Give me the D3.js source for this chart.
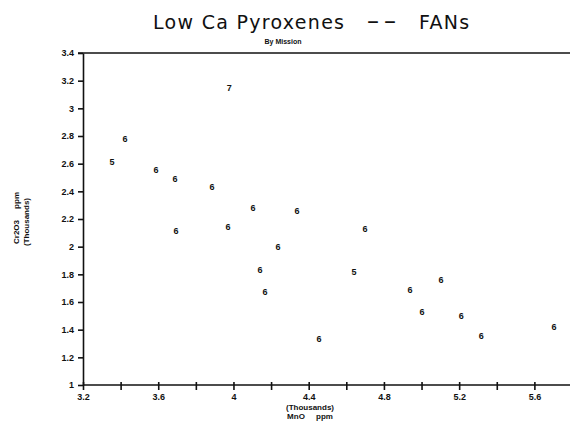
<!DOCTYPE html>
<html>
<head>
<meta charset="utf-8">
<script src="https://cdn.jsdelivr.net/npm/d3@7"></script>
<style>
  body { margin: 0; background: #fff; }
  svg { display: block; }
  .tick text { font-family: "Liberation Sans", Arial, sans-serif; font-weight: bold; font-size: 9px; fill: #111; }
  .domain, .tick line { stroke: #111; stroke-width: 1.6; }
</style>
</head>
<body>
<div id="chart"></div>
<script>
// MnO (thousands ppm), Cr2O3 (thousands ppm), mission label
const mno = [3.354, 3.423, 3.977, 3.588, 3.689, 3.886, 3.695, 3.971, 4.104, 4.338, 4.237,
  4.141, 4.168, 4.455, 4.700, 4.641, 4.939, 5.104, 5.003, 5.211, 5.317, 5.705];
const cr2o3 = [2.612, 2.778, 3.147, 2.554, 2.489, 2.431, 2.113, 2.142, 2.279, 2.258, 1.997,
  1.831, 1.672, 1.332, 2.127, 1.816, 1.686, 1.759, 1.527, 1.498, 1.354, 1.419];
const mission = ['5', '6', '7', '6', '6', '6', '6', '6', '6', '6', '6',
  '6', '6', '6', '6', '5', '6', '6', '6', '6', '6', '6'];
const xTicks = [3.2, 3.4, 3.6, 3.8, 4, 4.2, 4.4, 4.6, 4.8, 5, 5.2, 5.4, 5.6];
const xTickLabels = [3.2, 3.6, 4, 4.4, 4.8, 5.2, 5.6];
const yTicks = [1, 1.2, 1.4, 1.6, 1.8, 2, 2.2, 2.4, 2.6, 2.8, 3, 3.2, 3.4];

const W = 570, H = 434;
const margin = { top: 53, right: 0, bottom: 49, left: 83 };

const svg = d3.select('#chart').append('svg').attr('width', W).attr('height', H);

const x = d3.scaleLinear().domain([3.2, 5.8]).range([margin.left, margin.left + 489]);
const y = d3.scaleLinear().domain([1, 3.4]).range([H - margin.bottom, margin.top]);

// title, in three pieces so the wide gaps hold
const title = svg.append('text')
  .attr('y', 29)
  .style('font-family', '"DejaVu Sans", sans-serif')
  .style('font-size', '19px')
  .style('letter-spacing', '1.3px')
  .attr('fill', '#111');
title.append('tspan').attr('x', 153).text('Low Ca Pyroxenes');
title.append('tspan').attr('x', 367).style('font-size', '24px').style('letter-spacing', '5px').text('\u2013\u2013');
title.append('tspan').attr('x', 419).text('FANs');

svg.append('text')
  .attr('x', 283).attr('y', 44)
  .attr('text-anchor', 'middle')
  .style('font-family', '"Liberation Sans", Arial, sans-serif')
  .style('font-weight', 'bold')
  .style('font-size', '7px')
  .attr('fill', '#111')
  .text('By Mission');

// top frame line
svg.append('line')
  .attr('x1', x(3.2) - 5).attr('x2', W)
  .attr('y1', y(3.4)).attr('y2', y(3.4))
  .attr('stroke', '#111').attr('stroke-width', 1.6);

const xAxis = d3.axisBottom(x)
  .tickValues(xTicks)
  .tickSizeInner(5)
  .tickSizeOuter(0)
  .tickFormat(d => xTickLabels.some(v => Math.abs(v - d) < 1e-9) ? d3.format('')(d) : '');

const gx = svg.append('g')
  .attr('transform', `translate(0,${y(1)})`)
  .call(xAxis);
gx.select('.domain').attr('d', `M${x(3.2)},0H${W}`);
gx.selectAll('.tick line').attr('y1', -3);
gx.selectAll('.tick text').attr('y', 9).attr('dy', '0.71em');

const yAxis = d3.axisLeft(y)
  .tickValues(yTicks)
  .tickSizeInner(5)
  .tickSizeOuter(0)
  .tickPadding(4)
  .tickFormat(d3.format(''));

svg.append('g')
  .attr('transform', `translate(${x(3.2)},0)`)
  .call(yAxis);

// axis titles
const labelFont = '"Liberation Sans", Arial, sans-serif';
svg.append('text')
  .attr('x', 310).attr('y', 410)
  .attr('text-anchor', 'middle')
  .style('font-family', labelFont).style('font-weight', 'bold').style('font-size', '8px')
  .attr('fill', '#111')
  .text('(Thousands)');
svg.append('text')
  .attr('x', 310).attr('y', 419)
  .attr('text-anchor', 'middle')
  .style('font-family', labelFont).style('font-weight', 'bold').style('font-size', '8px')
  .attr('fill', '#111')
  .attr('xml:space', 'preserve')
  .style('white-space', 'pre')
  .text('MnO     ppm');

svg.append('text')
  .attr('transform', 'translate(19,218) rotate(-90)')
  .attr('text-anchor', 'middle')
  .attr('xml:space', 'preserve')
  .style('font-family', labelFont).style('font-weight', 'bold').style('font-size', '8px')
  .style('white-space', 'pre')
  .attr('fill', '#111')
  .text('Cr2O3     ppm');
svg.append('text')
  .attr('transform', 'translate(29,222) rotate(-90)')
  .attr('text-anchor', 'middle')
  .style('font-family', labelFont).style('font-weight', 'bold').style('font-size', '8px')
  .attr('fill', '#111')
  .text('(Thousands)');

// points drawn as mission numbers
const pts = mno.map((v, i) => ({ x: v, y: cr2o3[i], m: mission[i] }));
svg.append('g')
  .selectAll('text.pt')
  .data(pts)
  .join('text')
  .attr('class', 'pt')
  .attr('x', d => x(d.x))
  .attr('y', d => y(d.y))
  .attr('dy', '0.35em')
  .attr('text-anchor', 'middle')
  .style('font-family', labelFont)
  .style('font-weight', 'bold')
  .style('font-size', '9px')
  .attr('fill', '#111')
  .text(d => d.m);
</script>
</body>
</html>
